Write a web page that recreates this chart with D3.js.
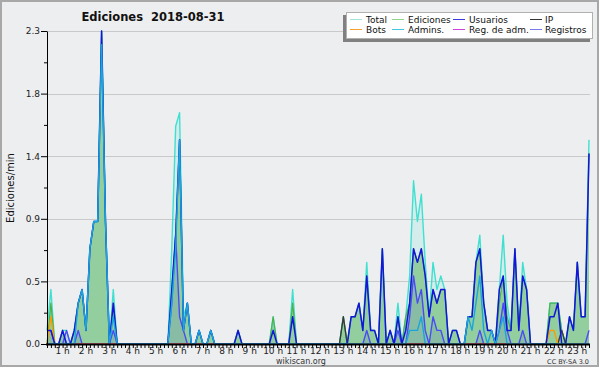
<!DOCTYPE html>
<html><head><meta charset="utf-8">
<script src="https://cdn.jsdelivr.net/npm/d3@7"></script>
<style>
body{margin:0;background:#fff}
svg{display:block}
text{font-family:"DejaVu Sans",sans-serif}
</style>
</head><body>
<svg id="c" width="600" height="370"></svg>
<script>
// ---- data (edits per minute, 10-minute bins starting 00:20) ----
const startMinute = 20, stepMinutes = 10;
const total = [
 .1,.4,0,0,.1,.1,0,.1,.3,.4,
 .1,.7,.9,.9,2.3,.9,0,.4,0,0,
 0,0,0,0,0,0,0,0,0,0,
 0,0,.7,1.6,1.7,.2,.3,0,0,.1,
 0,0,.1,0,0,0,0,0,0,.1,
 0,0,0,0,0,0,0,0,.2,0,
 0,0,0,.4,0,0,0,0,0,0,
 0,0,0,0,0,0,.2,0,.2,.2,
 .3,.1,.6,.1,.1,0,.7,0,.1,0,
 .3,0,.2,.5,1.2,.9,1.1,.6,.2,.6,
 .4,.5,.4,0,.1,.1,0,0,.2,.2,
 .6,.8,.3,.1,.1,0,.4,.8,.3,.1,
 .7,.1,.6,.4,0,0,0,0,0,.3,
 .3,.3,.1,0,.2,.1,.6,.2,.2,1.5];
const ediciones = [
 0,.3,0,0,.1,0,0,.1,.3,.4,
 .1,.7,.9,.9,2.3,.9,0,.3,0,0,
 0,0,0,0,0,0,0,0,0,0,
 0,0,.4,.8,1.5,.1,.3,0,0,.1,
 0,0,.1,0,0,0,0,0,0,.1,
 0,0,0,0,0,0,0,0,.2,0,
 0,0,0,.3,0,0,0,0,0,0,
 0,0,0,0,0,0,.2,0,.2,.2,
 .3,.1,.5,.1,.1,0,.7,0,.1,0,
 .2,0,.2,.3,.7,.6,.7,.5,.2,.4,
 .3,.4,.4,0,.1,.1,0,0,.2,.2,
 .6,.7,.3,.1,.1,0,.3,.5,.2,.1,
 .7,.1,.5,.4,0,0,0,0,0,.3,
 .3,.3,.1,0,.2,.1,.6,.2,.2,1.4];
const usuarios = [
 .1,.1,0,0,.1,0,0,.1,.3,.4,
 .1,.7,.9,.9,2.3,.9,0,.3,0,0,
 0,0,0,0,0,0,0,0,0,0,
 0,0,.4,.8,1.5,.1,.3,0,0,.1,
 0,0,.1,0,0,0,0,0,0,.1,
 0,0,0,0,0,0,0,0,.1,0,
 0,0,0,.2,0,0,0,0,0,0,
 0,0,0,0,0,0,0,0,.2,.2,
 .3,.1,.5,.1,.1,0,.7,0,.1,0,
 .2,0,.1,.3,.7,.6,.7,.5,.2,.4,
 .3,.4,.4,0,.1,.1,0,0,.2,.2,
 .6,.7,.3,.1,.1,0,.4,.5,.1,.1,
 .7,.1,.5,.4,0,0,0,0,0,.2,
 .2,.3,0,0,.2,.1,.6,.2,.2,1.4];
const ip = [
 0,0,0,0,0,0,0,0,0,0, 0,0,0,0,0,0,0,0,0,0, 0,0,0,0,0,0,0,0,0,0,
 0,0,0,0,0,0,0,0,0,0, 0,0,0,0,0,0,0,0,0,0, 0,0,0,0,0,0,0,0,0,0,
 0,0,0,0,0,0,0,0,0,0, 0,0,0,0,0,0,.2,0,0,0, 0,0,0,0,0,0,0,0,0,0,
 0,0,0,0,0,0,0,0,0,0, 0,0,0,0,0,0,0,0,0,0, 0,0,0,0,0,0,0,0,0,0,
 0,0,0,0,0,0,0,0,0,0, 0,0,.1,0,0,0,0,0,0,0];
const bots = [
 0,.2,0,0,0,0,0,0,0,0, 0,0,0,0,0,0,0,0,0,0, 0,0,0,0,0,0,0,0,0,0,
 0,0,0,0,0,0,0,0,0,0, 0,0,0,0,0,0,0,0,0,0, 0,0,0,0,0,0,0,0,0,0,
 0,0,0,0,0,0,0,0,0,0, 0,0,0,0,0,0,0,0,0,0, 0,0,0,0,0,0,0,0,0,0,
 0,0,0,0,0,0,0,0,0,0, 0,0,0,0,0,0,0,0,0,0, 0,0,0,0,0,0,0,0,0,0,
 0,0,0,0,0,0,0,0,0,.1, .1,0,0,0,0,0,0,0,0,0];
const admins = [
 0,0,0,0,0,0,0,0,.3,.4, .1,.7,.9,.9,2.2,.9,0,.2,0,0, 0,0,0,0,0,0,0,0,0,0,
 0,0,.3,.7,1.5,.1,.3,0,0,.1, 0,0,.1,0,0,0,0,0,0,0, 0,0,0,0,0,0,0,0,0,0,
 0,0,0,0,0,0,0,0,0,0, 0,0,0,0,0,0,0,0,0,0, 0,0,0,0,0,0,0,0,0,0,
 0,0,0,.1,.1,.1,.2,0,0,0, 0,0,0,0,0,0,0,0,.2,.1, .3,.5,.1,0,.1,0,.1,.2,0,0,
 0,0,0,0,0,0,0,0,0,0, 0,0,0,0,0,0,0,0,0,0];
const regAdm = [
 0,0,0,0,0,0,0,0,0,0, 0,0,0,0,0,0,0,0,0,0, 0,0,0,0,0,0,0,0,0,0,
 0,0,0,0,0,0,0,0,0,0, 0,0,0,0,0,0,0,0,0,0, 0,0,0,0,0,0,0,0,0,0,
 0,0,0,0,0,0,0,0,0,0, 0,0,0,0,0,0,0,0,0,0, 0,0,0,0,0,0,0,0,0,0,
 0,0,0,0,0,0,0,0,0,0, 0,0,0,0,0,0,0,0,0,0, 0,0,0,0,0,0,0,0,0,0,
 0,0,0,0,0,0,0,0,0,0, 0,0,0,0,0,0,0,0,0,0];
const registros = [
 .1,.1,0,0,0,.1,0,0,.1,0, 0,0,0,0,0,0,0,.1,0,0, 0,0,0,0,0,0,0,0,0,0,
 0,0,.3,.8,.2,.1,0,0,0,0, 0,0,0,0,0,0,0,0,0,0, 0,0,0,0,0,0,0,0,0,0,
 0,0,0,0,0,0,0,0,0,0, 0,0,0,0,0,0,0,0,0,0, 0,0,.1,0,0,0,0,0,0,0,
 .1,0,0,.2,.5,.3,.4,.1,0,.2, .1,.1,0,0,0,0,0,0,0,0, 0,.1,0,0,0,0,.1,.3,.1,0,
 0,0,.1,0,0,0,0,0,0,0, 0,0,0,0,0,0,0,0,0,.1];
const yTicks = [0, 0.46, 0.92, 1.38, 1.84, 2.3];
const hours = [1,2,3,4,5,6,7,8,9,10,11,12,13,14,15,16,17,18,19,20,21,22,23];
const legendNames = [["Total","Ediciones","Usuarios","IP"],["Bots","Admins.","Reg. de adm.","Registros"]];
const titleText = "Ediciones  2018-08-31";
const yTitle = "Ediciones/min";

// ---- styles ----
const legendColors = {"Total":"#9fe3dc","Ediciones":"#8fd48f","Usuarios":"#3a3ae0","IP":"#333333",
  "Bots":"#f5a030","Admins.":"#40c8e0","Reg. de adm.":"#cc44dd","Registros":"#7a7af0"};

const svg = d3.select("#c");
const minutes = total.map((d,i)=>startMinute + i*stepMinutes);
const x = d3.scaleLinear().domain([startMinute, minutes[minutes.length-1]]).range([47, 589]);
const y = d3.scaleLinear().domain([0, 2.3]).range([344, 31]);

svg.append("rect").attr("x",1).attr("y",1).attr("width",597).attr("height",365)
  .attr("fill","#edeef0").attr("stroke","#a8a8a8").attr("stroke-width",2);

// grid
svg.append("g").selectAll("line").data(yTicks.filter(d=>d>0)).join("line")
  .attr("x1",47).attr("x2",590).attr("y1",d=>Math.round(y(d))+0.5).attr("y2",d=>Math.round(y(d))+0.5)
  .attr("stroke","#c9c9c9").attr("stroke-width",1);

const area = arr => d3.area().x((d,i)=>x(minutes[i])).y0(y(0)).y1(d=>y(d))(arr);
const line = arr => d3.line().x((d,i)=>x(minutes[i])).y(d=>y(d))(arr);

svg.append("path").attr("d",area(total)).attr("fill","rgba(64,224,208,0.14)");
svg.append("path").attr("d",area(ediciones)).attr("fill","#93cf9e");
svg.append("path").attr("d",area(registros)).attr("fill","rgba(60,60,220,0.13)");

const lines = [
  [total,"#40e0d0",1.4],
  [ediciones,"#4cb04c",1.2],
  [registros,"#4b4bf5",1.4],
  [ip,"#3a3a3a",1.4],
  [bots,"#ff9900",1.4],
  [regAdm,"#d040e0",1.2],
  [usuarios,"#1414dc",1.5],
  [admins,"#1aa6dc",1.4]
];
lines.forEach(([arr,c,w])=>{
  svg.append("path").attr("d",line(arr)).attr("fill","none").attr("stroke",c)
    .attr("stroke-width",w).attr("stroke-linejoin","round");
});

// y axis
const ya = svg.append("g").attr("transform","translate(47,0)")
  .call(d3.axisLeft(y).tickValues(yTicks).tickFormat(d3.format(".1f")).tickSize(6).tickSizeOuter(0));
const minor = yTicks.slice(1).map((d,i)=>(d+yTicks[i])/2);
svg.append("g").attr("transform","translate(47,0)")
  .call(d3.axisLeft(y).tickValues(minor).tickFormat("").tickSize(3).tickSizeOuter(0))
  .select(".domain").remove();
ya.selectAll("text").attr("font-size",9).attr("fill","#222").attr("x",-7)
  .attr("font-family","DejaVu Sans");
ya.select(".domain").attr("stroke","#000");

// x axis
const xa = svg.append("g").attr("transform","translate(0,344)")
  .call(d3.axisBottom(x).tickValues(minutes).tickFormat("").tickSize(4).tickSizeOuter(0));
xa.select(".domain").attr("stroke-width",2).attr("d","M46,0.5H590");
xa.selectAll(".tick line").attr("stroke","#000");
svg.append("g").selectAll("text").data(hours).join("text")
  .attr("x",h=>x(h*60)).attr("y",354).attr("text-anchor","middle")
  .attr("font-size",9).attr("fill","#222").text(h=>h+" h");

// titles
svg.append("text").attr("x",153).attr("y",21).attr("text-anchor","middle")
  .attr("font-size",11.5).attr("font-weight","bold").style("white-space","pre").attr("fill","#111")
  .text(titleText);
svg.append("text").attr("transform","translate(14,188) rotate(-90)").attr("text-anchor","middle")
  .attr("font-family","DejaVu Sans Mono").attr("font-size",10).attr("fill","#111").text(yTitle);
svg.append("text").attr("x",301).attr("y",364).attr("text-anchor","middle")
  .attr("font-size",8).attr("fill","#333").text("wikiscan.org");
svg.append("text").attr("x",589).attr("y",364).attr("text-anchor","end")
  .attr("font-size",6.5).attr("fill","#333").text("CC BY-SA 3.0");

// legend
const lg = svg.append("g");
lg.append("rect").attr("x",343).attr("y",15).attr("width",247).attr("height",27).attr("fill","#808080");
lg.append("rect").attr("x",346.5).attr("y",12.5).attr("width",246).attr("height",26)
  .attr("fill","#fff").attr("stroke","#b0b0b0");
const colLine = [350,392,453,530], colText=[366,408,469,545];
legendNames.forEach((row,r)=>{
  row.forEach((name,c)=>{
    const ly = r===0?19.5:29.5;
    lg.append("line").attr("x1",colLine[c]).attr("x2",colLine[c]+12).attr("y1",ly).attr("y2",ly)
      .attr("stroke",legendColors[name]).attr("stroke-width",1);
    lg.append("text").attr("x",colText[c]).attr("y",r===0?22.5:32.5).attr("font-size",9)
      .attr("fill","#111").text(name);
  });
});
</script>
</body></html>
